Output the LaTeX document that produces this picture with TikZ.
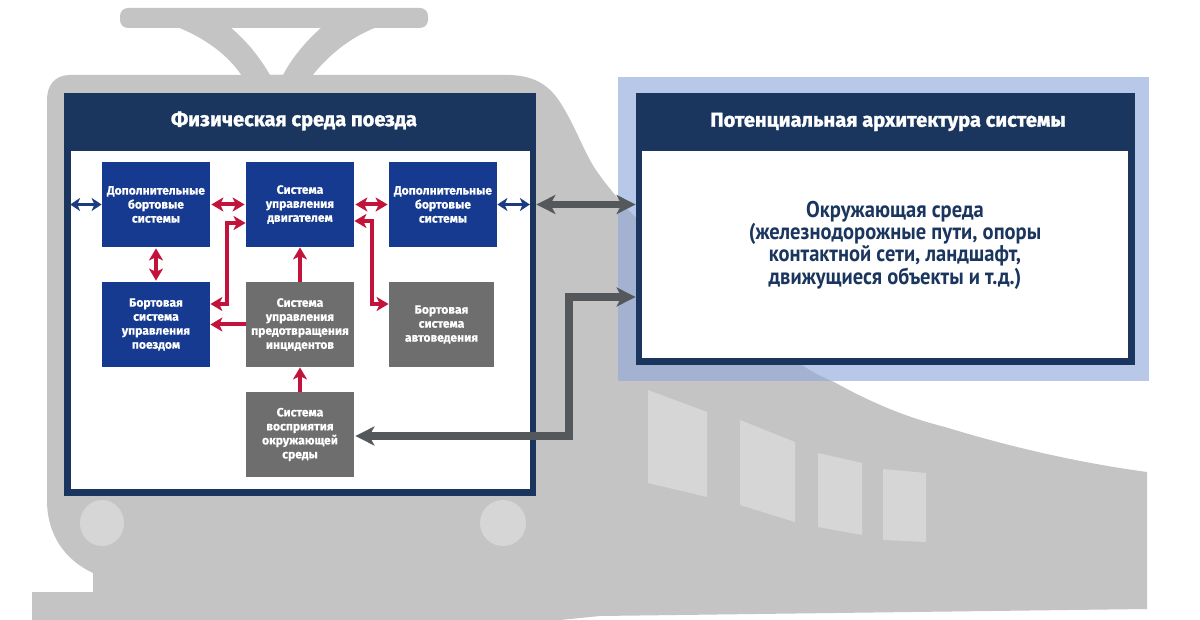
\documentclass[tikz,border=0pt]{standalone}
\usepackage{fontspec}
\setmainfont{Fira Sans}
\newfontfamily\titlefont[FakeBold=1.4]{Fira Sans Bold}
\newfontfamily\boxfont[FakeBold=0.5]{Fira Sans Bold}
\newfontfamily\envfont[FakeStretch=0.9]{PT Sans Bold}
\usetikzlibrary{arrows.meta}
\definecolor{bodygrey}{HTML}{C4C4C4}
\definecolor{lampgrey}{HTML}{D6D6D6}
\definecolor{navy}{HTML}{1A365F}
\definecolor{haze}{HTML}{B8C8E8}
\definecolor{hazedark}{HTML}{A3B2D0}
\definecolor{boxblue}{HTML}{163A8F}
\definecolor{boxgrey}{HTML}{6E6E6E}
\definecolor{linkred}{HTML}{C2143A}
\definecolor{linkblue}{HTML}{1C3C80}
\definecolor{linkdark}{HTML}{54585A}
\tikzset{
  panel/.style={rectangle,draw=none,fill=navy,inner sep=0pt,minimum width=#1},
  sheet/.style={rectangle,draw=none,fill=white,inner sep=0pt},
  bluebox/.style={rectangle,fill=boxblue,text=white,inner sep=0pt,align=center,minimum width=54pt,minimum height=42.5pt,font=\boxfont\fontsize{6.05}{7}\selectfont},
  greybox/.style={bluebox,fill=boxgrey},
  redlink/.style={draw=linkred,line width=2pt,{Stealth[length=6pt,width=7pt,inset=1.6pt]}-{Stealth[length=6pt,width=7pt,inset=1.6pt]}},
  redone/.style={draw=linkred,line width=2pt,-{Stealth[length=6pt,width=7pt,inset=1.6pt]}},
  bluelink/.style={draw=linkblue,line width=1.6pt,{Stealth[length=5pt,width=6.5pt,inset=1.4pt]}-{Stealth[length=5pt,width=6.5pt,inset=1.4pt]}},
  darklink/.style={draw=linkdark,line width=3.6pt,{Stealth[length=9.5pt,width=9.5pt,inset=2.6pt]}-{Stealth[length=9.5pt,width=9.5pt,inset=2.6pt]}},
  pane/.style={fill=lampgrey,draw=none},
  titletext/.style={text=white,font=\titlefont\fontsize{10.05}{12}\selectfont,inner sep=0pt},
}
\def\bodyoutline{(70,75) -- (510,75) .. controls (540,76) and (553,90) .. (563,107)
  .. controls (578,132) and (585,155) .. (598,173)
  .. controls (610,190) and (622,203) .. (635,217)
  -- (802,365) .. controls (812,372) and (822,377) .. (834,382)
  .. controls (870,402) and (905,417) .. (945,427)
  .. controls (1010,447) and (1080,463) .. (1147,472)
  -- (1147,609) -- (600,616) -- (560,620) -- (32,620) -- (32,592) -- (93,592) -- (93,573)
  .. controls (65,560) and (47,535) .. (47,500) -- (47,100) .. controls (47,85) and (55,75) .. (70,75) -- cycle}
\begin{document}
\begin{tikzpicture}[x=0.5pt,y=-0.5pt]
\useasboundingbox (0,0) rectangle (1200,620);
\fill[white] (0,0) rectangle (1200,620);
% pantograph
\fill[bodygrey,rounded corners=4pt] (120,8) rectangle (428,28);
\fill[bodygrey] (177,27) .. controls (205,38) and (228,55) .. (242,76) -- (312,76)
  .. controls (326,58) and (348,38) .. (377,27) -- (322,27)
  .. controls (305,42) and (292,58) .. (283,75) -- (270,75)
  .. controls (260,58) and (248,42) .. (230,27) -- cycle;
% train body
\fill[bodygrey] \bodyoutline;
% lamps and windows
\fill[lampgrey] (102,523) ellipse [x radius=22,y radius=23];
\fill[lampgrey] (503,523) ellipse [x radius=23,y radius=23];
\fill[pane] (648,390) -- (707,412) -- (707,497) -- (648,483) -- cycle;
\fill[pane] (740,420) -- (795,442) -- (795,522) -- (740,505) -- cycle;
\fill[pane] (818,453) -- (862,463) -- (862,535) -- (818,527) -- cycle;
\fill[pane] (883,469) -- (926,473) -- (926,542) -- (883,540) -- cycle;
% translucent backing of the right panel
\fill[haze] (618,77) rectangle (1149,381);
\begin{scope}
  \clip (618,77) rectangle (1149,381);
  \fill[hazedark] \bodyoutline;
\end{scope}
% panels
\node[panel=236pt,minimum height=201.5pt] (lp) at (300,294.5) {};
\node[sheet,minimum width=229.5pt,minimum height=169pt] (ls) at (300,320) {};
\node[panel=249.5pt,minimum height=136pt] (rp) at (885.5,229) {};
\node[sheet,minimum width=243pt,minimum height=103.5pt] (rs) at (885,254.5) {};
\node[titletext] (lt) at (294,121) {Физическая среда поезда};
\node[titletext] (rt) at (888,122) {Потенциальная архитектура системы};
\node[inner sep=0pt,align=center,text=navy,font=\envfont\fontsize{11.4}{11.15}\selectfont] (env) at (895,245)
  {Окружающая среда\\(железнодорожные пути, опоры\\контактной сети, ландшафт,\\движущиеся объекты и т.д.)};
% boxes
\node[bluebox] (aux1) at (156,204.5) {Дополнительные\\бортовые\\системы};
\node[bluebox] (eng) at (300,204.5) {Система\\управления\\двигателем};
\node[bluebox] (aux2) at (443,204.5) {Дополнительные\\бортовые\\системы};
\node[bluebox] (atc) at (156,324.5) {Бортовая\\система\\управления\\поездом};
\node[greybox] (inc) at (300,324.5) {Система\\управления\\предотвращения\\инцидентов};
\node[greybox,minimum width=52.5pt] (ato) at (441.5,324.5) {Бортовая\\система\\автоведения};
\node[greybox] (per) at (300,434.5) {Система\\восприятия\\окружающей\\среды};
% connector bend points
\coordinate (redA) at (227,304);
\coordinate (redB) at (227,223);
\coordinate (redC) at (372,221);
\coordinate (redD) at (372,304);
\coordinate (darkA) at (569,436);
\coordinate (darkB) at (569,297);
% connectors
\draw[bluelink] (ls.west |- aux1.west) -- (aux1.west);
\draw[redlink,shorten <=0.5pt,shorten >=0.5pt] (aux1.east) -- (eng.west);
\draw[redlink,shorten <=0.5pt,shorten >=0.5pt] (eng.east) -- (aux2.west);
\draw[bluelink] (aux2.east) -- (ls.east |- aux2.east);
\draw[redlink,shorten <=0.5pt,shorten >=0.5pt] (aux1.south) -- (atc.north);
\draw[redlink,line join=miter] (atc.east |- redA) -- (redA) -- (redB) -- (eng.west |- redB);
\draw[redone] (inc.west) -- (atc.east);
\draw[redone] (inc.north) -- (eng.south);
\draw[redone] (per.north) -- (inc.south);
\draw[redlink,line join=miter] (eng.east |- redC) -- (redC) -- (redD) -- (ato.west |- redD);
\draw[darklink] (lp.east |- aux2.east) -- (rp.west |- aux2.east);
\draw[darklink,line join=miter,shorten <=0.5pt] (per.east |- darkA) -- (darkA) -- (darkB) -- (rp.west |- darkB);
\end{tikzpicture}
\end{document}
